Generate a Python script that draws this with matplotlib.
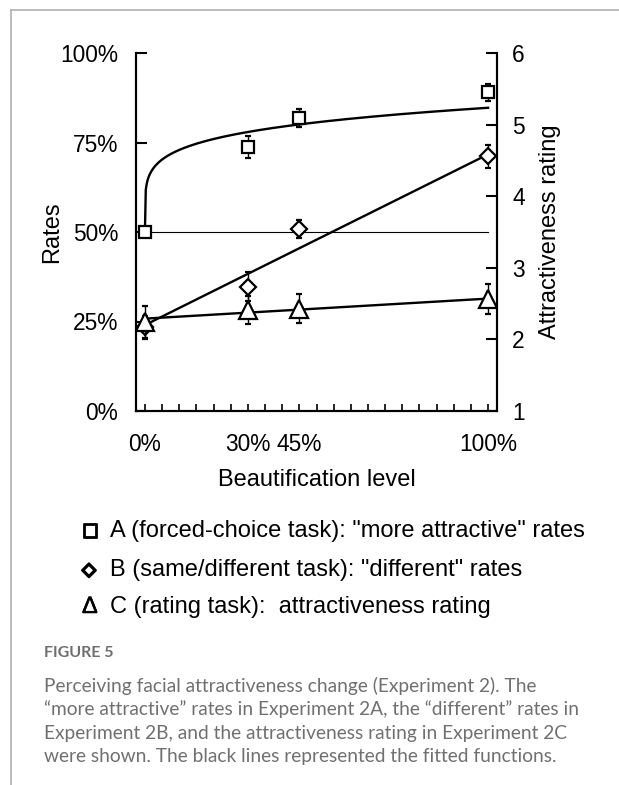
import matplotlib
matplotlib.use("Agg")
import matplotlib.pyplot as plt
import matplotlib.ticker as mticker
import matplotlib.patheffects as pe
import numpy as np

# ---------------- data ----------------
levels = [0, 30, 45, 100]                      # beautification level (%)
rates_a = [50.0, 73.7, 81.8, 89.0]             # A: "more attractive" rates (%)
err_a = [0.0, 3.0, 2.6, 2.3]
rates_b = [23.4, 34.7, 50.8, 71.2]             # B: "different" rates (%)
err_b = [3.2, 4.0, 2.5, 3.2]
rating_c = [2.24, 2.41, 2.43, 2.57]            # C: attractiveness rating (1-6)
err_c = [0.22, 0.20, 0.20, 0.21]

# fitted functions (parameters)
fit_a_base, fit_a_amp, fit_a_exp = 50.0, 34.7, 0.18   # power function
fit_b_icpt, fit_b_slope = 24.0, 0.477                 # linear
fit_c_icpt, fit_c_slope = 2.29, 0.0028                # linear

left_ticks = [0, 25, 50, 75, 100]
right_ticks = [1, 2, 3, 4, 5, 6]
x_ticklabels = ["0%", "30%", "45%", "100%"]

legend_lines = ['A (forced-choice task): "more attractive" rates',
                'B (same/different task): "different" rates',
                'C (rating task):  attractiveness rating']
legend_syms = ['\u25a1', '\u25c7', '\u0394']

caption_title = "FIGURE 5"
caption_lines = [
    "Perceiving facial attractiveness change (Experiment 2). The",
    "\u201cmore attractive\u201d rates in Experiment 2A, the \u201cdifferent\u201d rates in",
    "Experiment 2B, and the attractiveness rating in Experiment 2C",
    "were shown. The black lines represented the fitted functions.",
]

# ---------------- figure ----------------
W, H = 619, 785
fig = plt.figure(figsize=(W / 100, H / 100), dpi=100)
plt.rcParams['font.family'] = ['Liberation Sans', 'DejaVu Sans']
FS = 16.4
FL = 17

ax = fig.add_axes([136 / W, 1 - 411 / H, (497 - 136) / W, (411 - 53) / H])
ax2 = ax.twinx()

ax.set_xlim(-2.6, 102.6)
ax.set_ylim(0, 100)
ax2.set_ylim(1, 6)

for a in (ax, ax2):
    for s in a.spines.values():
        s.set_linewidth(1.5)
    a.spines['top'].set_visible(False)

lw = 1.7
# horizontal reference line at 50%
ax.plot([0, 100], [50, 50], color='black', lw=0.8, zorder=1)

xs = np.linspace(0, 100, 400)
ax.plot(xs, fit_a_base + fit_a_amp * (xs / 100) ** fit_a_exp, color='black', lw=lw, zorder=2)
ax.plot(xs, fit_b_icpt + fit_b_slope * xs, color='black', lw=lw, zorder=2)
ax2.plot(xs, fit_c_icpt + fit_c_slope * xs, color='black', lw=lw, zorder=2)

ekw = dict(ecolor='black', elinewidth=1.0, capsize=2.5, capthick=1.0, ls='none',
           mfc='white', mec='black', mew=1.6, zorder=3)
ax.errorbar(levels, rates_a, yerr=err_a, marker='s', ms=8.5, **ekw)
ax.errorbar(levels, rates_b, yerr=err_b, marker='D', ms=8.5, **ekw)
ax2.errorbar(levels, rating_c, yerr=err_c, marker='^', ms=13, **ekw)

# ticks
ax.set_yticks(left_ticks)
ax.yaxis.set_major_formatter(mticker.FuncFormatter(lambda v, p: f"{v:.0f}%"))
ax.set_xticks(levels)
ax.set_xticklabels(x_ticklabels)
ax.xaxis.set_minor_locator(mticker.MultipleLocator(5))
ax.tick_params(axis='x', which='both', direction='in', length=5, width=1.2,
               labelsize=FS, pad=16)
ax.tick_params(axis='y', direction='in', length=8, width=1.5, labelsize=FS, pad=12.7)
ax2.set_yticks(right_ticks)
ax2.tick_params(axis='y', direction='in', length=8, width=1.5, labelsize=FS, pad=11)

ax.set_xlabel("Beautification level", fontsize=FL, labelpad=9)
ax.set_ylabel("Rates", fontsize=FL)
ax.yaxis.set_label_coords((63 - 136) / 361, 0.5)
ax2.set_ylabel("Attractiveness rating", fontsize=FL, labelpad=10)

# legend-like text lines
leg_y = [531, 570, 607]
sym_sizes = [13, 13, 17]
sym_strokes = [1.3, 1.6, 0.4]
for sym, txt, y, ss, sk in zip(legend_syms, legend_lines, leg_y, sym_sizes, sym_strokes):
    fig.text(82 / W, 1 - y / H, sym, fontsize=ss, va='center', ha='left',
             family=['DejaVu Sans'] if sym != '\u0394' else ['Liberation Sans'],
             path_effects=[pe.withStroke(linewidth=sk, foreground='black')])
    fig.text(110 / W, 1 - y / H, txt, fontsize=FL, va='center', ha='left')

# caption
fig.text(44 / W, 1 - 653 / H, caption_title, fontsize=11.5, va='center', ha='left',
         color='#6e6e6e', fontweight='bold', family=['Lato', 'DejaVu Sans'])
cap_y = [686, 709.5, 733, 756.5]
for y, line in zip(cap_y, caption_lines):
    fig.text(44 / W, 1 - y / H, line, fontsize=13.8, va='center', ha='left',
             color='#707070', family=['Lato', 'DejaVu Sans'])

# frame lines (page border)
fig.add_artist(plt.Line2D([11 / W, 11 / W], [0, 1 - 10 / H], color='#b0b0b0', lw=1.2))
fig.add_artist(plt.Line2D([11 / W, 1], [1 - 10 / H, 1 - 10 / H], color='#b0b0b0', lw=1.2))

fig.savefig("out.png", dpi=100)
